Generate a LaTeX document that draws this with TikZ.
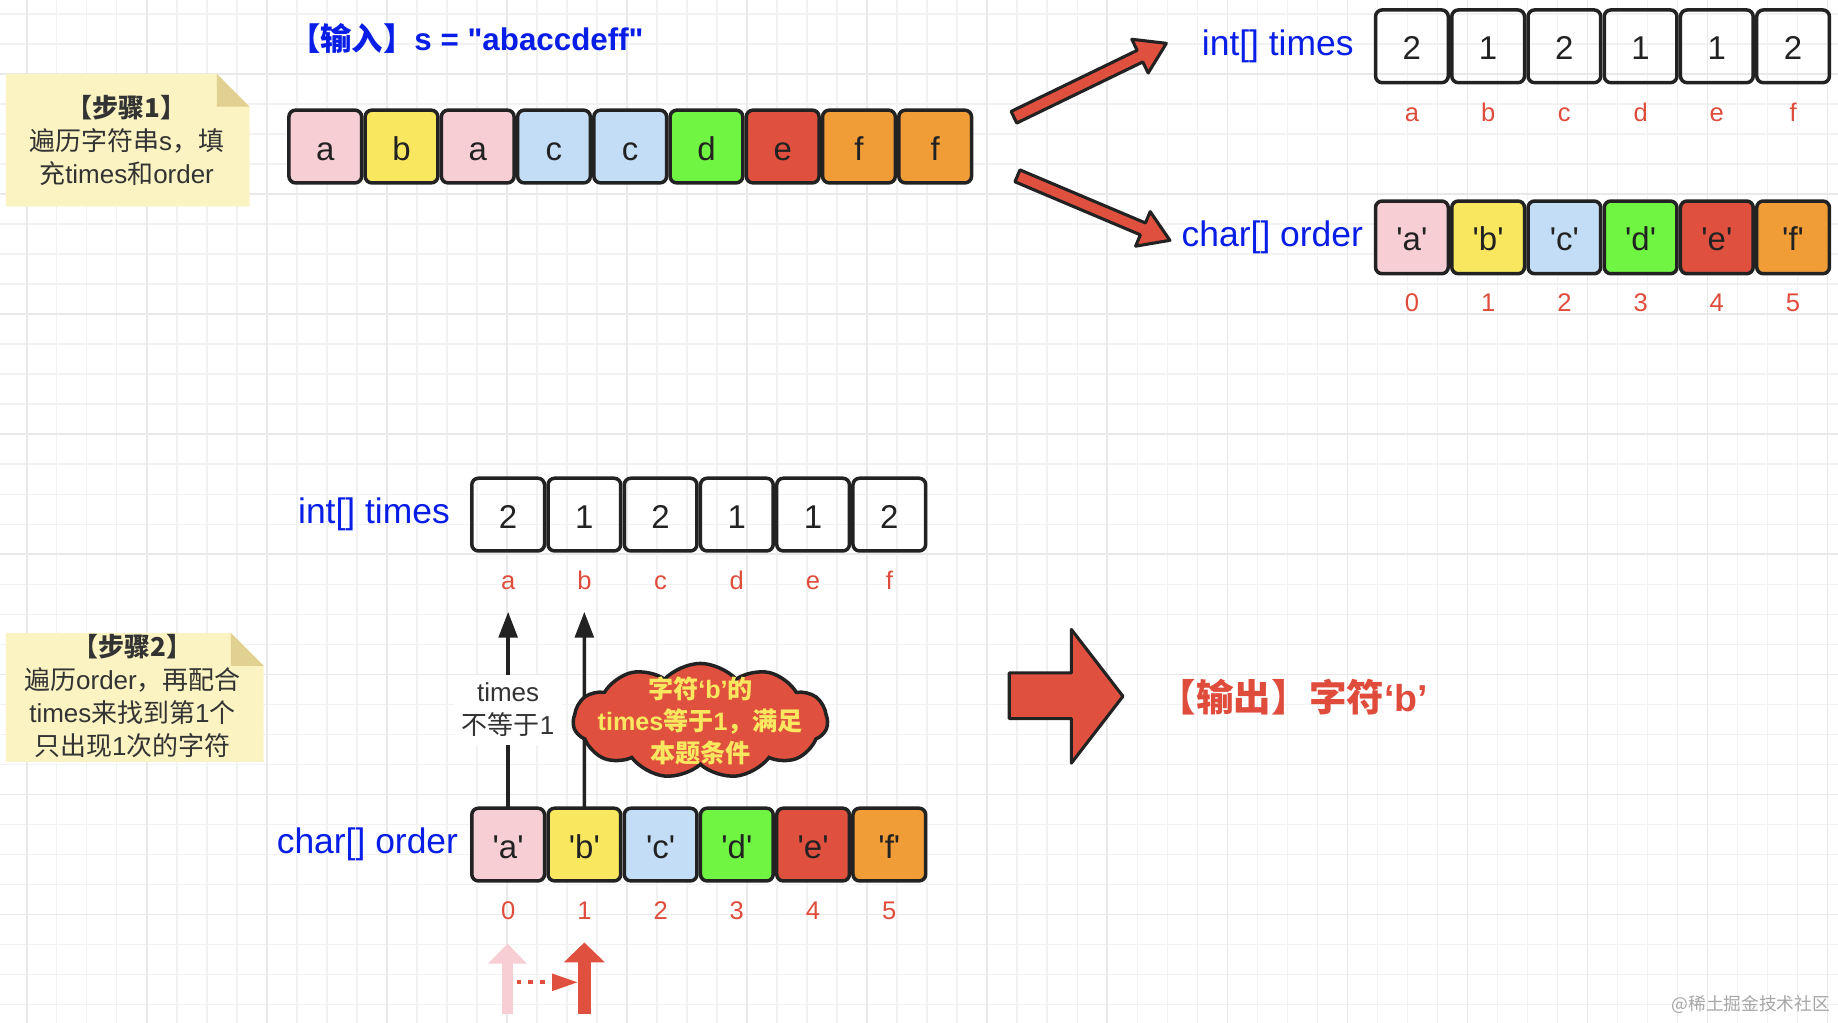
\documentclass[tikz,border=0pt]{standalone}
\usepackage{fontspec}
\setmainfont{Liberation Sans}
\newfontfamily\cjk{Noto Sans CJK SC}
\usepackage{tikz}
\usetikzlibrary{shapes}
\usetikzlibrary{arrows.meta}
\usetikzlibrary{positioning}
\usetikzlibrary{calc}

\definecolor{cellpink}{RGB}{246,206,212}
\definecolor{cellyellow}{RGB}{249,232,95}
\definecolor{cellblue}{RGB}{196,221,246}
\definecolor{cellgreen}{RGB}{112,245,66}
\definecolor{cellred}{RGB}{224,80,63}
\definecolor{cellorange}{RGB}{240,157,56}
\definecolor{labelblue}{RGB}{8,30,230}
\definecolor{indexred}{RGB}{224,76,60}
\definecolor{notefill}{RGB}{251,243,194}
\definecolor{notefold}{RGB}{224,208,146}
\definecolor{ink}{RGB}{34,34,34}
\definecolor{notetext}{RGB}{51,51,51}
\definecolor{gridminor}{RGB}{242,242,242}
\definecolor{gridmajor}{RGB}{233,233,233}

\newcommand{\hanzi}[1]{{\cjk #1}}
\newcommand{\chq}{\textquotesingle}

\begin{document}
\begin{tikzpicture}[
        x=0.01cm, y=-0.01cm,
        node distance=0.03cm,
        cell/.style = {draw=ink, line width=0.85pt, rounded corners=1.6pt,
                       minimum width=0.62cm, minimum height=0.62cm,
                       inner sep=0pt, outer sep=0pt, text=ink,
                       text height=1.5ex, text depth=0.25ex,
                       font=\fontsize{8}{9.6}\selectfont},
        arrname/.style = {text=labelblue, inner sep=0pt,
                          font=\fontsize{8.6}{10}\selectfont},
        idx/.style = {text=indexred, inner sep=0pt,
                      text height=0.72em, text depth=0.2em,
                      font=\fontsize{6.2}{7}\selectfont},
        notetxt/.style = {align=center, text=notetext, inner sep=0pt,
                          font=\fontsize{6.3}{8}\selectfont},
        fatarrow/.style = {draw=ink, line width=0.75pt, fill=cellred, line join=round},
        uparrow/.style = {draw=ink, line width=0.85pt,
                          -{Triangle[length=0.22cm, width=0.16cm]}}
        ]
        \useasboundingbox (0,0) rectangle (1568,872);
        \fill[white] (0,0) rectangle (1568,872);

        % background grid
        \begin{scope}
            \clip (0,0) rectangle (1568,872);
            \draw[gridminor, line width=0.35pt, shift={(-2.81,-13.67)}] (0,0) grid[step=0.2559cm] (1620,900);
            \draw[gridmajor, line width=0.4pt, shift={(-79.58,-39.26)}] (0,0) grid[step=1.0236cm] (1700,950);
        \end{scope}

        % step 1
        \node[anchor=west, text=labelblue, inner sep=0pt,
              font=\fontsize{7.6}{9}\selectfont\bfseries] (Input) at (246,33)
              {\hanzi{【输入】}s = \textquotedbl abaccdeff\textquotedbl};

        \fill[notefill] (5,63) -- (185,63) -- (213,91) -- (213,176) -- (5,176) -- cycle;
        \fill[notefold] (185,63) -- (185,91) -- (213,91) -- cycle;
        \node[notetxt] (Step1) at (108,120)
              {\hanzi{\bfseries 【步骤1】}\\ \hanzi{遍历字符串}s\hanzi{，填}\\ \hanzi{充}times\hanzi{和}order};

        \node[cell, fill=cellpink] (Str1) at (277.5,125) {a};
        \foreach \ch/\col [count=\i from 2, remember=\i as \j (initially 1)] in
            {b/cellyellow, a/cellpink, c/cellblue, c/cellblue, d/cellgreen, e/cellred, f/cellorange, f/cellorange}
            \node[cell, fill=\col, right=of Str\j] (Str\i) {\ch};

        \begin{scope}[shift={(865,100)}, rotate=25.86]
            \draw[fatarrow] (0,-5.5) -- (119.5,-5.5) -- (119.5,-16) -- (144.5,0)
                -- (119.5,16) -- (119.5,5.5) -- (0,5.5) -- cycle;
        \end{scope}
        \begin{scope}[shift={(868,150)}, rotate=-22.93]
            \draw[fatarrow] (0,-5.5) -- (116.2,-5.5) -- (116.2,-16) -- (141.2,0)
                -- (116.2,16) -- (116.2,5.5) -- (0,5.5) -- cycle;
        \end{scope}

        \node[cell] (TopTimes1) at (1204.5,39.5) {2};
        \foreach \v [count=\i from 2, remember=\i as \j (initially 1)] in {1,2,1,1,2}
            \node[cell, right=of TopTimes\j] (TopTimes\i) {\v};
        \foreach \ch [count=\i] in {a,...,f}
            \node[idx, below=0.07cm of TopTimes\i] (TopTimesKey\i) {\ch};
        \node[arrname, left=0.18cm of TopTimes1] (TopTimesName) {int[] times};

        \node[cell, fill=cellpink] (TopOrder1) at (1204.5,202.5) {\chq a\chq};
        \foreach \ch/\col [count=\i from 2, remember=\i as \j (initially 1)] in
            {b/cellyellow, c/cellblue, d/cellgreen, e/cellred, f/cellorange}
            \node[cell, fill=\col, right=of TopOrder\j] (TopOrder\i) {\chq\ch\chq};
        \foreach \n [count=\i] in {0,...,5}
            \node[idx, below=0.06cm of TopOrder\i] (TopOrderIdx\i) {\n};
        \node[arrname, left=0.1cm of TopOrder1] (TopOrderName) {char[] order};

        % step 2
        \fill[notefill] (5,540) -- (197,540) -- (225,568) -- (225,650) -- (5,650) -- cycle;
        \fill[notefold] (197,540) -- (197,568) -- (225,568) -- cycle;
        \node[notetxt] (Step2) at (113,594)
              {\hanzi{\bfseries 【步骤2】}\\ \hanzi{遍历}order\hanzi{，再配合}\\
               times\hanzi{来找到第}1\hanzi{个}\\ \hanzi{只出现}1\hanzi{次的字符}};

        \node[cell] (BotTimes1) at (433.5,439) {2};
        \foreach \v [count=\i from 2, remember=\i as \j (initially 1)] in {1,2,1,1,2}
            \node[cell, right=of BotTimes\j] (BotTimes\i) {\v};
        \foreach \ch [count=\i] in {a,...,f}
            \node[idx, below=0.07cm of BotTimes\i] (BotTimesKey\i) {\ch};
        \node[arrname, left=0.18cm of BotTimes1] (BotTimesName) {int[] times};

        \node[cell, fill=cellpink] (BotOrder1) at (433.5,720.5) {\chq a\chq};
        \foreach \ch/\col [count=\i from 2, remember=\i as \j (initially 1)] in
            {b/cellyellow, c/cellblue, d/cellgreen, e/cellred, f/cellorange}
            \node[cell, fill=\col, right=of BotOrder\j] (BotOrder\i) {\chq\ch\chq};
        \foreach \n [count=\i] in {0,...,5}
            \node[idx, below=0.07cm of BotOrder\i] (BotOrderIdx\i) {\n};
        \node[arrname, left=0.11cm of BotOrder1] (BotOrderName) {char[] order};

        \coordinate (TipA) at (433.5,522);
        \coordinate (TipB) at (498.5,522);
        \draw[uparrow] (BotOrder1.north) -- node[notetxt, fill=white, inner sep=2pt] (NotOne)
              {times\\ \hanzi{不等于}1} (TipA);
        \draw[uparrow] (BotOrder2.north) -- (TipB);

        \node[cloud, draw=ink, line width=0.85pt, fill=cellred, cloud puffs=11,
              cloud puff arc=95, cloud ignores aspect, minimum width=2.17cm,
              minimum height=0.98cm, inner sep=0pt] (Cloud) at (597.5,615) {};
        \node[align=center, text=cellyellow, inner sep=0pt,
              font=\fontsize{6.1}{7.8}\selectfont\bfseries] (CloudText) at (Cloud.center)
              {\hanzi{字符}‘b’\hanzi{的}\\ times\hanzi{等于}1\hanzi{，满足}\\ \hanzi{本题条件}};

        % pointers
        \coordinate (PtrA) at (433,865);
        \coordinate (PtrB) at (498.5,865);
        \draw[cellpink, line width=0.1cm, -{Triangle[length=0.17cm, width=0.32cm]}] (PtrA) -- ++(0,-60);
        \draw[cellred, line width=0.11cm, -{Triangle[length=0.17cm, width=0.34cm]}] (PtrB) -- ++(0,-61);
        \coordinate (DotFrom) at (441,838);
        \coordinate (DotTo) at (493,838);
        \draw[cellred, line width=1pt, dash pattern=on 1.1pt off 1.7pt,
              -{Triangle[length=0.22cm, width=0.14cm]}] (DotFrom) -- (DotTo);

        % output
        \draw[fatarrow] (861,574) -- (914,574) -- (914,537) -- (958,594)
            -- (914,651) -- (914,613) -- (861,613) -- cycle;
        \node[anchor=west, text=indexred, inner sep=0pt,
              font=\fontsize{9.1}{11}\selectfont\bfseries] (Output) at (988,595)
              {\hanzi{【输出】字符}‘b’};

        \node[anchor=east, text=black!35, inner sep=0pt,
              font=\cjk\fontsize{4.3}{5}\selectfont] (Mark) at (1562,857) {@稀土掘金技术社区};
    \end{tikzpicture}
\end{document}
